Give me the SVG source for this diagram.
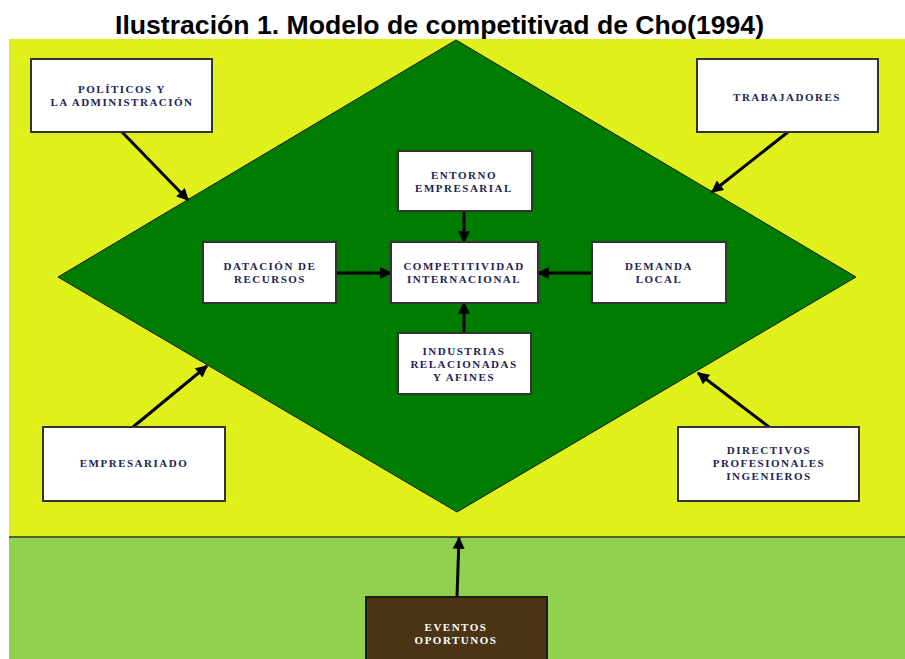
<svg xmlns="http://www.w3.org/2000/svg" width="905" height="659" viewBox="0 0 905 659">
<style>
.box{fill:#ffffff;stroke:#333333;stroke-width:2}
.t{font-family:"Liberation Serif","Times New Roman",serif;font-weight:bold;font-size:11px;fill:#1b2553;text-anchor:middle;letter-spacing:1.5px}
.w{fill:#ffffff}
.c{stroke:#000;stroke-width:3;fill:none;marker-end:url(#ah)}
</style>
<defs>
<marker id="ah" viewBox="0 0 10 10" refX="9" refY="5" markerWidth="4.5" markerHeight="4" orient="auto" markerUnits="strokeWidth">
<path d="M0,0 L10,5 L0,10 z" fill="#000"/>
</marker>
</defs>
<rect x="0" y="0" width="905" height="659" fill="#ffffff"/>
<text x="439.5" y="34" font-family="Liberation Sans,Arial,sans-serif" font-weight="bold" font-size="25" text-anchor="middle" textLength="649" lengthAdjust="spacingAndGlyphs" fill="#000">Ilustración 1. Modelo de competitivad de Cho(1994)</text>
<g id="background">
<rect x="9" y="39" width="896" height="498" fill="#dff01a"/>
<rect x="9" y="537" width="896" height="122" fill="#92d050"/>
<line x1="9" y1="537" x2="905" y2="537" stroke="#333" stroke-width="1.5"/>
<polygon points="456,40 856,277 457,512 58,277" fill="#007c00" stroke="#1a1a1a" stroke-width="1"/>
</g>
<g id="connectors">
<line class="c" x1="122" y1="132" x2="188" y2="200"/>
<line class="c" x1="788" y1="132" x2="712" y2="192"/>
<line class="c" x1="464" y1="211" x2="464" y2="242"/>
<line class="c" x1="336" y1="273" x2="391" y2="273"/>
<line class="c" x1="592" y1="273" x2="538" y2="273"/>
<line class="c" x1="464" y1="333" x2="464" y2="303"/>
<line class="c" x1="133" y1="427" x2="207" y2="366"/>
<line class="c" x1="769" y1="427" x2="698" y2="373"/>
<line class="c" x1="457" y1="597" x2="459" y2="538"/>
</g>
<g id="politicos">
<rect class="box" x="31" y="59" width="181" height="73"/>
<text class="t" x="122" y="92.5">POLÍTICOS Y</text>
<text class="t" x="122" y="105.5">LA ADMINISTRACIÓN</text>
</g>
<g id="trabajadores">
<rect class="box" x="697" y="59" width="181" height="73"/>
<text class="t" x="787" y="101">TRABAJADORES</text>
</g>
<g id="entorno">
<rect class="box" x="398" y="151" width="134" height="60"/>
<text class="t" x="464" y="179">ENTORNO</text>
<text class="t" x="464" y="192">EMPRESARIAL</text>
</g>
<g id="datacion">
<rect class="box" x="203" y="242" width="133" height="61"/>
<text class="t" x="270" y="270">DATACIÓN DE</text>
<text class="t" x="270" y="283">RECURSOS</text>
</g>
<g id="competitividad">
<rect class="box" x="391" y="242" width="147" height="61"/>
<text class="t" x="464" y="270">COMPETITIVIDAD</text>
<text class="t" x="464" y="283">INTERNACIONAL</text>
</g>
<g id="demanda">
<rect class="box" x="592" y="242" width="134" height="61"/>
<text class="t" x="659" y="270">DEMANDA</text>
<text class="t" x="659" y="283">LOCAL</text>
</g>
<g id="industrias">
<rect class="box" x="398" y="333" width="133" height="61"/>
<text class="t" x="464" y="355">INDUSTRIAS</text>
<text class="t" x="464" y="368">RELACIONADAS</text>
<text class="t" x="464" y="381">Y AFINES</text>
</g>
<g id="empresariado">
<rect class="box" x="43" y="427" width="182" height="74"/>
<text class="t" x="134" y="467">EMPRESARIADO</text>
</g>
<g id="directivos">
<rect class="box" x="678" y="427" width="181" height="74"/>
<text class="t" x="769" y="454">DIRECTIVOS</text>
<text class="t" x="769" y="467">PROFESIONALES</text>
<text class="t" x="769" y="480">INGENIEROS</text>
</g>
<g id="eventos">
<rect x="366" y="597" width="181" height="70" fill="#4a3414" stroke="#1a1a1a" stroke-width="2"/>
<text class="t w" x="456" y="631">EVENTOS</text>
<text class="t w" x="456" y="644">OPORTUNOS</text>
</g>
</svg>
